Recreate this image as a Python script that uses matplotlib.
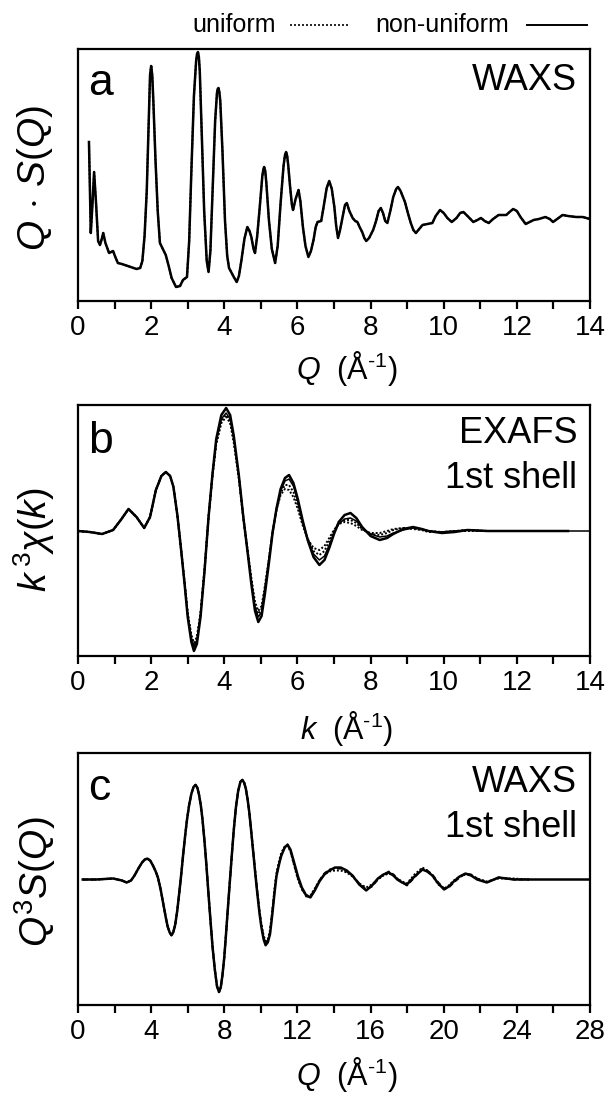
import matplotlib
matplotlib.use("Agg")
import matplotlib.pyplot as plt
from matplotlib.ticker import MultipleLocator, NullFormatter
from matplotlib.lines import Line2D

plt.rcParams['font.family'] = ['Liberation Sans', 'DejaVu Sans']
plt.rcParams['mathtext.fontset'] = 'custom'
plt.rcParams['mathtext.rm'] = 'Liberation Sans'
plt.rcParams['mathtext.it'] = 'Liberation Sans:italic'
plt.rcParams['mathtext.sf'] = 'Liberation Sans'

# ---------------- panel a : WAXS Q*S(Q) ----------------
waxs_q = [0.30, 0.35, 0.40, 0.44, 0.49, 0.55, 0.60, 0.65, 0.69, 0.75,
          0.85, 0.96, 1.02, 1.09, 1.20, 1.28, 1.44, 1.60, 1.70, 1.76,
          1.82, 1.88, 1.94, 1.97, 2.00, 2.03, 2.06, 2.12, 2.18, 2.24,
          2.32, 2.40, 2.48, 2.56, 2.68, 2.79, 2.87, 2.98, 3.04, 3.10,
          3.17, 3.23, 3.255, 3.28, 3.305, 3.33, 3.39, 3.45, 3.52, 3.57,
          3.62, 3.68, 3.75, 3.80, 3.82, 3.84, 3.865, 3.89, 3.95, 4.02,
          4.08, 4.13, 4.26, 4.34, 4.40, 4.47, 4.55, 4.63, 4.69, 4.74,
          4.80, 4.84, 4.90, 4.97, 5.04, 5.07, 5.09, 5.12, 5.15, 5.22,
          5.30, 5.39, 5.46, 5.54, 5.62, 5.66, 5.69, 5.72, 5.75, 5.80,
          5.85, 5.88, 5.95, 6.03, 6.08, 6.15, 6.22, 6.30, 6.37, 6.44,
          6.50, 6.55, 6.65, 6.72, 6.80, 6.87, 6.94, 7.01, 7.06, 7.11,
          7.16, 7.22, 7.30, 7.35, 7.42, 7.51, 7.58, 7.64, 7.70, 7.77,
          7.83, 7.88, 7.96, 8.07, 8.15, 8.22, 8.28, 8.34, 8.40, 8.46,
          8.54, 8.62, 8.70, 8.75, 8.82, 8.94, 9.02, 9.10, 9.17, 9.24,
          9.33, 9.42, 9.55, 9.69, 9.78, 9.90, 10.00, 10.10, 10.22, 10.35,
          10.45, 10.54, 10.65, 10.81, 10.92, 11.02, 11.12, 11.23, 11.35, 11.50,
          11.60, 11.71, 11.80, 11.90, 12.00, 12.10, 12.24, 12.35, 12.46, 12.60,
          12.78, 12.90, 12.99, 13.10, 13.25, 13.40, 13.62, 13.80, 14.00]
waxs_nonuniform = [159, 68, 100, 129, 100, 60, 56, 62, 68, 58,
                   48, 50, 44, 38, 37, 36, 34, 32, 33, 40,
                   65, 110, 190, 226, 235, 226, 200, 140, 90, 58,
                   52, 46, 35, 23, 14, 15, 21, 24, 60, 130,
                   205, 240, 247, 249, 244, 230, 160, 90, 40, 29,
                   50, 110, 180, 208, 212, 213, 209, 200, 150, 80,
                   45, 33, 24, 19, 25, 41, 62, 74, 70, 64,
                   52, 48, 65, 94, 125, 132, 134, 130, 118, 81,
                   52, 38, 55, 98, 135, 146, 149, 145, 135, 114,
                   96, 91, 102, 111, 100, 74, 55, 44, 50, 61,
                   74, 79, 80, 95, 113, 120, 112, 94, 75, 63,
                   70, 81, 96, 98, 90, 83, 80, 79, 74, 69,
                   63, 60, 63, 71, 80, 90, 93, 88, 80, 78,
                   90, 104, 112, 114, 110, 99, 88, 78, 71, 68,
                   72, 76, 77, 78, 85, 91, 88, 83, 79, 83,
                   88, 89, 85, 79, 81, 83, 80, 78, 82, 86,
                   86, 86, 89, 92, 90, 84, 77, 79, 81, 82,
                   84, 82, 79, 82, 86, 85, 84, 84, 82]
# the uniform model is indistinguishable from the non-uniform one in panel a
waxs_uniform = list(waxs_nonuniform)

# ---------------- panel b : EXAFS first shell ----------------
exafs_k = [0, 0.32, 0.66, 0.96, 1.17, 1.38, 1.60, 1.81, 1.97, 2.13, 2.28, 2.40, 2.52, 2.61, 2.72,
           2.82, 2.92, 3.00, 3.10, 3.17, 3.25, 3.35, 3.46, 3.57, 3.68, 3.78, 3.92, 4.05, 4.16, 4.26,
           4.40, 4.52, 4.64, 4.74, 4.84, 4.93, 5.02, 5.11, 5.22, 5.32, 5.43, 5.54, 5.66, 5.77, 5.89,
           6.01, 6.14, 6.28, 6.44, 6.60, 6.74, 6.87, 7.00, 7.13, 7.29, 7.45, 7.61, 7.77, 8.00, 8.25,
           8.45, 8.62, 8.90, 9.16, 9.40, 9.58, 9.95, 10.30, 10.65, 11.20, 11.71, 12.50, 13.40]
exafs_nonuniform_1 = [0, -1, -3, 1, 11, 22, 14, 3, 14, 41, 55, 59, 55, 44, 15,
                      -19, -55, -86, -111, -120, -113, -86, -40, 14, 58, 92, 116, 123, 116, 95,
                      55, 14, -22, -53, -80, -91, -85, -63, -32, -2, 23, 42, 53, 56, 48,
                      32, 11, -9, -26, -34, -29, -17, -3, 9, 16, 18, 13, 4, -5, -9,
                      -7, -3, 2, 4, 2, 0, -2, -1, 1, 0, 0, 0, 0]
exafs_nonuniform_2 = [0, -1, -3, 1, 11, 22, 14, 3, 14, 41, 55, 59, 55, 44, 15,
                      -19, -54, -84, -107, -116, -109, -84, -39, 14, 57, 89, 112, 118, 112, 92,
                      54, 14, -21, -50, -76, -86, -81, -60, -30, -2, 22, 40, 50, 52, 45,
                      30, 10, -8, -23, -29, -25, -14, -2, 7, 12, 13, 10, 3, -3, -6,
                      -5, -2, 1, 3, 2, 0, -1, 0, 1, 0, 0, 0, 0]
exafs_uniform_1 = [0, -1, -3, 1, 11, 22, 14, 3, 14, 41, 55, 59, 55, 44, 15,
                   -19, -53, -82, -104, -112, -106, -82, -38, 14, 56, 87, 108, 114, 108, 88,
                   52, 13, -20, -47, -71, -80, -75, -55, -27, 0, 21, 36, 42, 41, 34,
                   22, 6, -8, -17, -19, -15, -7, 1, 7, 9, 8, 5, 1, -2, -2,
                   0, 2, 3, 2, 1, -1, -1, 0, 0, 0, 0, 0, 0]
exafs_uniform_2 = [0, -1, -3, 1, 11, 22, 14, 3, 14, 41, 55, 59, 55, 44, 15,
                   -19, -54, -83, -106, -114, -108, -83, -39, 14, 57, 88, 110, 116, 110, 90,
                   53, 14, -21, -49, -74, -83, -78, -58, -29, -1, 22, 38, 46, 46, 39,
                   26, 8, -8, -20, -24, -20, -10, 0, 8, 11, 11, 8, 2, -3, -4,
                   -2, 1, 3, 3, 1, 0, -1, 0, 1, 0, 0, 0, 0]
exafs_tail_k = [13.40, 14.00]
exafs_tail = [0, 0]

# ---------------- panel c : WAXS first shell Q^3 S(Q) ----------------
shell_q = [0.26, 1.00, 1.92, 2.40, 2.66, 2.90, 3.09, 3.30, 3.50, 3.65,
           3.79, 3.95, 4.10, 4.25, 4.37, 4.52, 4.68, 4.80, 4.90, 5.01,
           5.11, 5.21, 5.32, 5.43, 5.54, 5.65, 5.75, 5.86, 5.96, 6.08,
           6.20, 6.32, 6.43, 6.53, 6.62, 6.72, 6.81, 6.92, 7.02, 7.13,
           7.24, 7.36, 7.48, 7.60, 7.71, 7.81, 7.90, 8.00, 8.09, 8.20,
           8.30, 8.41, 8.52, 8.64, 8.76, 8.88, 8.99, 9.09, 9.18, 9.28,
           9.37, 9.48, 9.58, 9.69, 9.80, 9.92, 10.03, 10.15, 10.26, 10.38,
           10.50, 10.62, 10.75, 10.85, 10.93, 11.03, 11.12, 11.30, 11.46, 11.62,
           11.82, 12.03, 12.24, 12.48, 12.71, 12.95, 13.20, 13.47, 13.74, 14.05,
           14.37, 14.70, 15.01, 15.38, 15.76, 16.08, 16.40, 16.70, 17.00, 17.25,
           17.46, 17.72, 17.99, 18.40, 18.84, 19.10, 19.38, 19.70, 20.02, 20.28,
           20.55, 20.87, 21.19, 21.50, 21.83, 22.36, 23.00, 23.85, 24.60]
shell_nonuniform = [0, 0, 1, -1, -3, -1, 4, 11, 17, 20,
                    21, 19, 14, 8, 2, -10, -26, -38, -47, -53,
                    -56, -53, -45, -31, -13, 6, 25, 44, 60, 75,
                    86, 93, 95, 92, 85, 74, 60, 38, 15, -13,
                    -40, -68, -90, -107, -113, -108, -96, -78, -56, -28,
                    -3, 24, 50, 73, 89, 98, 100, 97, 91, 80,
                    67, 47, 28, 7, -13, -33, -48, -60, -66, -63,
                    -55, -36, -13, 3, 10, 18, 24, 32, 35, 30,
                    17, 3, -8, -16, -18, -11, -2, 5, 9, 12,
                    12, 9, 4, -5, -11, -6, 1, 5, 7, 4,
                    0, -3, -5, 3, 10, 8, 4, -4, -10, -7,
                    -2, 3, 6, 4, 0, -3, 2, 0, 0]
shell_uniform_1 = [0, 0, 1, -1, -3, -1, 4, 11, 17, 20,
                   21, 19, 14, 8, 2, -10, -26, -38, -47, -53,
                   -56, -53, -45, -31, -13, 6, 25, 44, 60, 75,
                   86, 93, 95, 92, 85, 74, 60, 38, 15, -13,
                   -40, -68, -90, -107, -113, -108, -96, -78, -56, -28,
                   -3, 24, 50, 73, 89, 98, 100, 97, 91, 80,
                   67, 47, 29, 9, -11, -30, -45, -56, -62, -60,
                   -51, -32, -9, 6, 13, 21, 27, 33, 34, 28,
                   14, 0, -10, -16, -16, -9, -1, 5, 8, 9,
                   9, 7, 3, -4, -8, -5, 0, 4, 6, 4,
                   1, -2, -4, 5, 12, 9, 4, -5, -9, -6,
                   -1, 3, 5, 4, 1, -2, 1, 1, 0]
shell_uniform_2 = [0, 0, 1, -1, -3, -1, 4, 11, 17, 20,
                   21, 19, 14, 8, 2, -10, -26, -38, -47, -53,
                   -56, -53, -45, -31, -13, 6, 25, 44, 60, 75,
                   86, 93, 95, 92, 85, 74, 60, 38, 15, -13,
                   -40, -68, -90, -107, -113, -108, -96, -78, -56, -28,
                   -3, 24, 50, 73, 89, 98, 100, 97, 91, 80,
                   67, 47, 28, 8, -12, -32, -47, -58, -64, -61,
                   -53, -34, -11, 4, 11, 19, 25, 32, 35, 29,
                   15, 1, -9, -17, -17, -10, -1, 6, 10, 11,
                   11, 8, 4, -4, -10, -7, 0, 5, 8, 5,
                   1, -3, -6, 2, 11, 9, 5, -3, -9, -8,
                   -3, 2, 6, 5, 1, -3, 2, 0, 0]
shell_tail_q = [24.60, 28.00]
shell_tail = [0, 0]

W, H = 608, 1095
fig = plt.figure(figsize=(W / 100, H / 100), dpi=100)


def add_axes(top_px, bottom_px):
    left, right = 78, 590
    return fig.add_axes([left / W, 1 - bottom_px / H, (right - left) / W, (bottom_px - top_px) / H])


ax_a = add_axes(49, 301)
ax_b = add_axes(405, 656)
ax_c = add_axes(753, 1005)

lw_solid = 1.8
lw_dot = 1.4
dot = (0, (1.0, 1.0))

ax_a.plot(waxs_q, waxs_uniform, color='black', lw=lw_dot, ls=dot)
ax_a.plot(waxs_q, waxs_nonuniform, color='black', lw=lw_solid)
ax_a.set_xlim(0, 14)
ax_a.set_ylim(0, 252)

ax_b.plot(exafs_k, exafs_uniform_1, color='black', lw=lw_dot, ls=dot)
ax_b.plot(exafs_k, exafs_uniform_2, color='black', lw=lw_dot, ls=dot)
ax_b.plot(exafs_k, exafs_nonuniform_2, color='black', lw=1.1)
ax_b.plot(exafs_k, exafs_nonuniform_1, color='black', lw=lw_solid)
ax_b.plot(exafs_tail_k, exafs_tail, color='black', lw=1.1)
ax_b.set_xlim(0, 14)
ax_b.set_ylim(-125, 126)

ax_c.plot(shell_q, shell_uniform_1, color='black', lw=lw_dot, ls=dot)
ax_c.plot(shell_q, shell_uniform_2, color='black', lw=lw_dot, ls=(0, (2.5, 1.5)))
ax_c.plot(shell_q, shell_nonuniform, color='black', lw=lw_solid)
ax_c.plot(shell_tail_q, shell_tail, color='black', lw=lw_solid)
ax_c.set_xlim(0, 28)
ax_c.set_ylim(-126, 127)

for ax, major, minor in ((ax_a, 2, 1), (ax_b, 2, 1), (ax_c, 4, 2)):
    for sp in ax.spines.values():
        sp.set_linewidth(1.6)
    ax.set_yticks([])
    ax.xaxis.set_major_locator(MultipleLocator(major))
    ax.xaxis.set_minor_locator(MultipleLocator(minor))
    ax.xaxis.set_minor_formatter(NullFormatter())
    ax.tick_params(axis='x', which='both', direction='out', length=5.5, width=1.6,
                   labelsize=20, pad=4.5, top=False)

# panel labels and annotations
ax_a.text(0.02, 0.817, 'a', fontsize=32, transform=ax_a.transAxes, va='baseline', ha='left')
ax_b.text(0.02, 0.81, 'b', fontsize=32, transform=ax_b.transAxes, va='baseline', ha='left')
ax_c.text(0.02, 0.814, 'c', fontsize=32, transform=ax_c.transAxes, va='baseline', ha='left')

ax_a.text(0.975, 0.837, 'WAXS', fontsize=26, transform=ax_a.transAxes, va='baseline', ha='right')
ax_b.text(0.975, 0.849, 'EXAFS', fontsize=26, transform=ax_b.transAxes, va='baseline', ha='right')
ax_b.text(0.975, 0.67, '1st shell', fontsize=26, transform=ax_b.transAxes, va='baseline', ha='right')
ax_c.text(0.975, 0.845, 'WAXS', fontsize=26, transform=ax_c.transAxes, va='baseline', ha='right')
ax_c.text(0.975, 0.667, '1st shell', fontsize=26, transform=ax_c.transAxes, va='baseline', ha='right')

# x labels
unit = r'  (Å$^{\mathrm{‐1}}$)'
fig.text(347 / W, 1 - 368 / H, r'$\mathit{Q}$' + unit, fontsize=22, ha='center', va='center')
fig.text(347 / W, 1 - 728 / H, r'$\mathit{k}$' + unit, fontsize=22, ha='center', va='center')
fig.text(347 / W, 1 - 1075 / H, r'$\mathit{Q}$' + unit, fontsize=22, ha='center', va='center')

# y labels
fig.text(35 / W, 1 - 178 / H, r'$\mathit{Q}\,\cdot\,\mathit{S(Q)}$', fontsize=28, rotation=90, ha='center', va='center')
fig.text(34 / W, 1 - 540 / H, r'$\mathit{k}^{\,\mathrm{3}}\mathit{\chi(k)}$', fontsize=27, rotation=90, ha='center', va='center')
fig.text(35 / W, 1 - 882 / H, r'$\mathit{Q}^{\mathrm{3}}\mathit{S(Q)}$', fontsize=28, rotation=90, ha='center', va='center')

# top legend
fig.text(192 / W, 1 - 25 / H, 'uniform', fontsize=18, ha='left', va='center')
fig.add_artist(Line2D([290 / W, 350 / W], [1 - 25 / H, 1 - 25 / H], color='black', lw=1.2, ls=(0, (1.2, 1.2))))
fig.text(375 / W, 1 - 25 / H, 'non-uniform', fontsize=18, ha='left', va='center')
fig.add_artist(Line2D([527 / W, 587 / W], [1 - 25 / H, 1 - 25 / H], color='black', lw=1.4))

fig.savefig('out.png', dpi=100)
